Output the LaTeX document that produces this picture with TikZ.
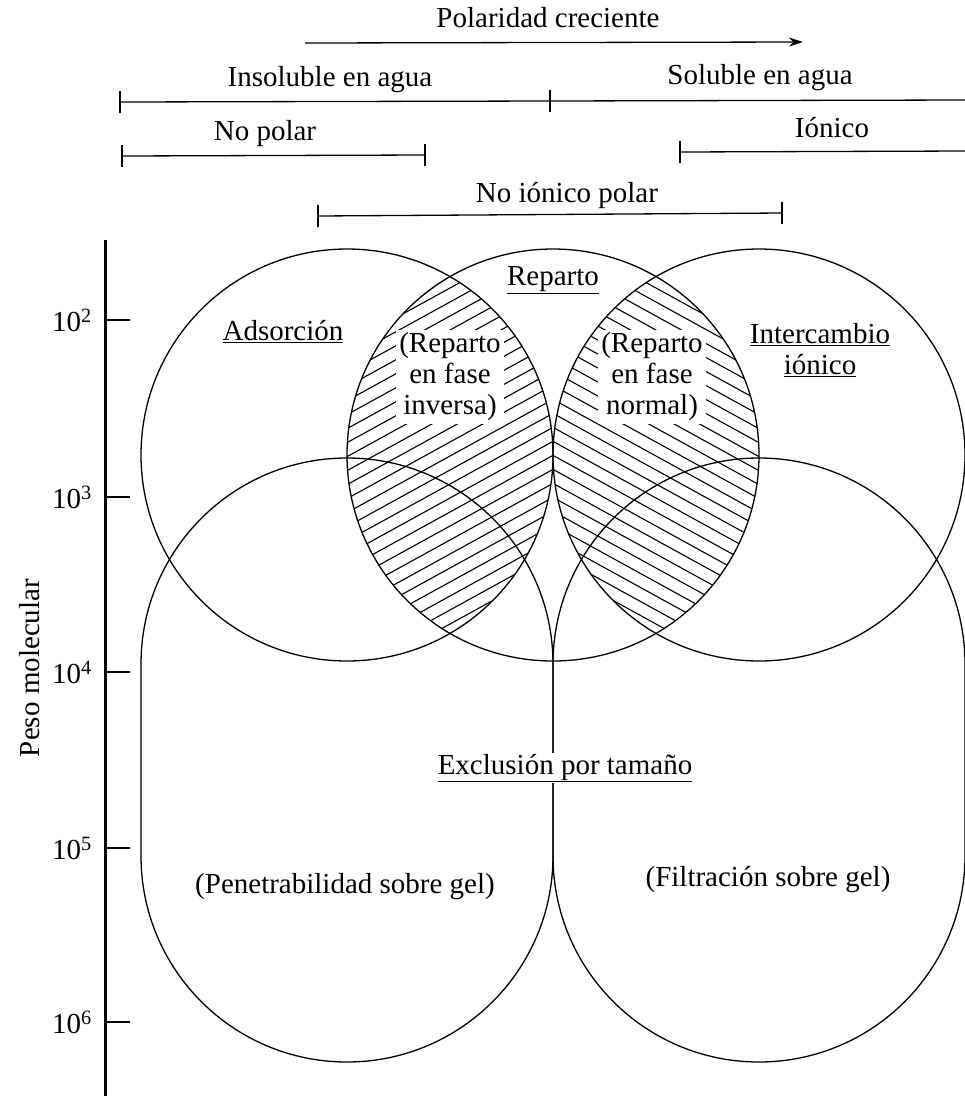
\documentclass[tikz,border=0pt]{standalone}
\usepackage{fontspec}
\setmainfont{Liberation Serif}
\usetikzlibrary{arrows.meta}

\tikzset{
  lbl/.style={font=\fontsize{29}{31}\selectfont, inner sep=2pt},
  ring/.style={line width=1.3pt},
  hatch/.style={line width=1.1pt},
  rangeline/.style={line width=1.3pt},
  whitelbl/.style={lbl, fill=white, align=center, inner sep=3pt}
}
\newcommand{\tickmark}[1]{\draw[rangeline] (#1) ++(0,-11) -- ++(0,22);}

\begin{document}
\begin{tikzpicture}[x=1pt,y=-1pt]
\useasboundingbox (0,0) rectangle (965,1096);

% escala de polaridad
\node[lbl] (pol) at (548,18) {Polaridad creciente};
\coordinate (polA) at (305,43);
\coordinate (polB) at (803,42);
\draw[rangeline,-{Stealth[length=14pt,width=9pt]}] (polA) -- (polB);

\node[lbl] (insol) at (330,80) {Insoluble en agua};
\node[lbl] (sol) at (760,78) {Soluble en agua};
\coordinate (insA) at (120,102);
\coordinate (insB) at (550,101);
\coordinate (solB) at (965,100);
\draw[rangeline] (insA) -- (insB) -- (solB);
\tickmark{insA} \tickmark{insB}

\node[lbl] (nopol) at (265,134) {No polar};
\coordinate (npA) at (122,156);
\coordinate (npB) at (425,155);
\draw[rangeline] (npA) -- (npB);
\tickmark{npA} \tickmark{npB}

\node[lbl] (ion) at (832,128) {Iónico};
\coordinate (ionA) at (680,152);
\coordinate (ionB) at (965,151);
\draw[rangeline] (ionA) -- (ionB);
\tickmark{ionA}

\node[lbl] (nip) at (567,195) {No iónico polar};
\coordinate (nipA) at (318,216);
\coordinate (nipB) at (782,213);
\draw[rangeline] (nipA) -- (nipB);
\tickmark{nipA} \tickmark{nipB}

% eje de peso molecular
\coordinate (axT) at (105,240);
\coordinate (axB) at (105,1096);
\draw[line width=3pt] (axT) -- (axB);
\foreach \e/\y in {2/320,3/497,4/672,5/848,6/1022}{
  \draw[rangeline] (105,\y) -- (130,\y);
  \node[lbl] (t\e) at (72,\y) {10\textsuperscript{\e}};
}
\node[lbl, rotate=90] (peso) at (30,668) {Peso molecular};

% centros
\coordinate (cAd) at (347,455);
\coordinate (cRe) at (553,455);
\coordinate (cIn) at (759,455);

% rayado
\begin{scope}
  \clip (cAd) circle[radius=206pt];
  \clip (cRe) circle[radius=206pt];
  \foreach \c in {176,190,...,750}
    \draw[hatch] (330,\c+66) -- (570,\c-66);
\end{scope}
\begin{scope}
  \clip (cRe) circle[radius=206pt];
  \clip (cIn) circle[radius=206pt];
  \foreach \c in {176,190,...,750}
    \draw[hatch] (536,\c-66) -- (776,\c+66);
\end{scope}

\node[whitelbl] (inv) at (450,377) {(Reparto\\en fase\\inversa)};
\node[whitelbl] (norm) at (652,377) {(Reparto\\en fase\\normal)};

% circulos y zonas
\draw[ring] (cAd) circle[radius=206pt];
\draw[ring] (cRe) circle[radius=206pt];
\draw[ring] (cIn) circle[radius=206pt];
\draw[ring, rounded corners=206pt] (141,458) rectangle (553,1062);
\draw[ring, rounded corners=206pt] (553,458) rectangle (965,1062);

\node[lbl] (ads) at (283,332) {\underline{Adsorción}};
\node[lbl] (rep) at (553,280) {\underline{Reparto}};
\node[lbl, align=center] (inter) at (820,350) {\underline{Intercambio}\\\underline{iónico}};
\node[lbl, fill=white, inner sep=1pt] (excl) at (565,768) {\underline{Exclusión por tamaño}};
\node[lbl] (pen) at (345,887) {(Penetrabilidad sobre gel)};
\node[lbl] (fil) at (768,880) {(Filtración sobre gel)};
\end{tikzpicture}
\end{document}
